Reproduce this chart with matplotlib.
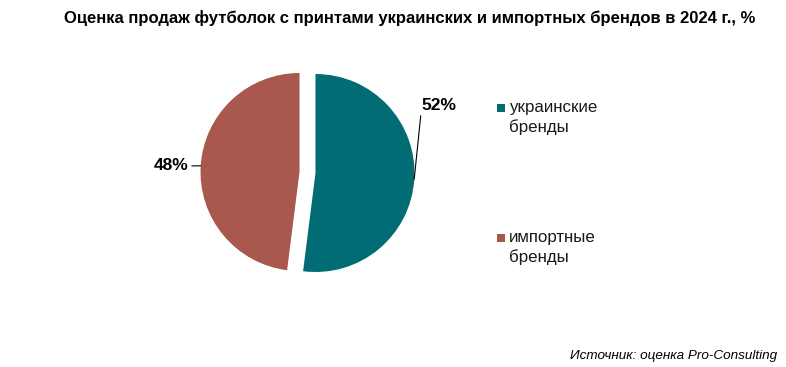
import numpy as np
import matplotlib
matplotlib.use("Agg")
import matplotlib.pyplot as plt
from matplotlib.patches import Rectangle

plt.rcParams['font.family'] = ['Liberation Sans', 'DejaVu Sans']

categories = ["украинские\nбренды", "импортные\nбренды"]
values = [52, 48]
colors = ["#016C74", "#A8584C"]
title = "Оценка продаж футболок с принтами украинских и импортных брендов в 2024 г., %"
source = "Источник: оценка Pro-Consulting"

W, H = 786, 367
fig = plt.figure(figsize=(W / 100, H / 100), dpi=100)

cx, cy = 307.5, 367 - 172.5
half = 110
ax = fig.add_axes([(cx - half) / W, (cy - half) / H, 2 * half / W, 2 * half / H])

r = 0.99
expl = 0.08
wedges, _ = ax.pie(values, colors=colors, startangle=90, counterclock=False,
                   radius=r, explode=[expl, expl], wedgeprops=dict(linewidth=0))
ax.set_xlim(-1.1, 1.1)
ax.set_ylim(-1.1, 1.1)
ax.set_aspect('equal')
ax.axis('off')

fig.text(410 / W, 1 - 18 / H, title, ha='center', va='center', fontsize=12, fontweight='bold')

def px(x, y):
    return (x / W, 1 - y / H)

# data labels
label_cfg = [
    (px(421, 113), 'left', 'bottom', (0, 0)),
    (px(189, 166), 'right', 'center', (1, 0.5)),
]
for w, v, (pos, ha, va, rel) in zip(wedges, values, label_cfg):
    ang = np.deg2rad((w.theta1 + w.theta2) / 2)
    ox, oy = expl * r * np.cos(ang), expl * r * np.sin(ang)
    ex, ey = ox + r * np.cos(ang), oy + r * np.sin(ang)
    ax.annotate(f"{v}%", xy=(ex, ey), xycoords='data',
                xytext=pos, textcoords='figure fraction',
                ha=ha, va=va, fontsize=12.5, fontweight='bold',
                arrowprops=dict(arrowstyle='-', color='black', lw=0.8,
                                shrinkA=0, shrinkB=0, relpos=rel))

# legend (manual, squares aligned to first line)
leg_rows = [104, 234]
for c, lab, y in zip(colors, categories, leg_rows):
    fig.patches.append(Rectangle(px(497.5, y + 7.5), 7.5 / W, 7.5 / H,
                                 transform=fig.transFigure, facecolor=c,
                                 edgecolor='none'))
    fig.text(509 / W, 1 - (y - 4) / H, lab, ha='left', va='top',
             fontsize=12.2, color='#1a1a1a', linespacing=1.35)

fig.text(777 / W, 1 - 356 / H, source, ha='right', va='center',
         fontsize=9.7, style='italic')

fig.savefig("out.png", dpi=100)
